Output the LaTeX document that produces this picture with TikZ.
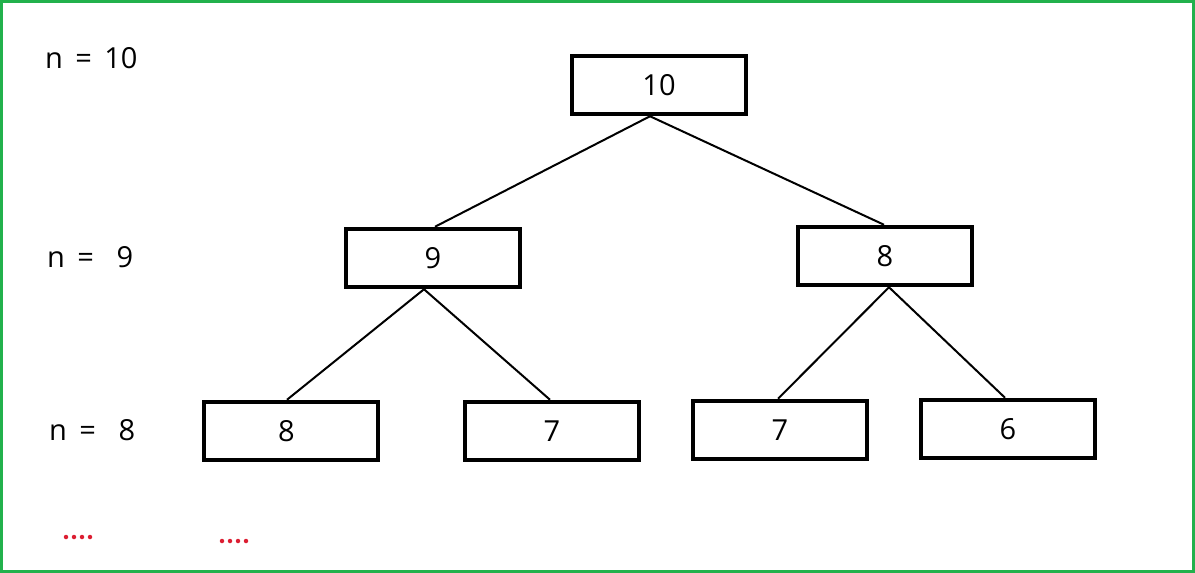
\documentclass[tikz,border=0pt]{standalone}
\usepackage{fontspec}
\setmainfont{Open Sans}
\definecolor{frame}{RGB}{34,177,76}
\definecolor{dotred}{RGB}{220,30,50}
\begin{document}
\begin{tikzpicture}[x=1pt,y=-1pt,
  numbox/.style={draw=black,line width=4.5pt,rectangle,minimum width=174pt,minimum height=58pt,inner sep=0pt,font=\fontsize{29}{33}\selectfont},
  lvl/.style={anchor=west,inner sep=0pt,font=\fontsize{29}{33}\selectfont},
  edge/.style={draw=black,line width=2pt},
  reddot/.style={fill=dotred,draw=none,circle,minimum size=4.5pt,inner sep=0pt}]
\useasboundingbox (0,0) rectangle (1195,573);
\draw[frame,line width=3pt] (1.5,1.5) rectangle (1193.5,571.5);
% level labels
\node[lvl] (l10) at (45,58) {n\,\ =\,\ 10};
\node[lvl] (l9) at (47,257) {n\,\ =\ \ \ 9};
\node[lvl] (l8) at (49,430) {n\,\ =\ \ \ 8};
% boxes
\node[numbox] (root) at (659,85) {\raisebox{-2pt}{10}};
\node[numbox] (n9) at (433,258) {\raisebox{-1pt}{9}};
\node[numbox] (n8) at (885,256) {8};
\node[numbox] (a8) at (291,431) {\raisebox{-2pt}{\hspace*{-9pt}8}};
\node[numbox] (a7) at (552,431) {7};
\node[numbox] (b7) at (780,430) {7};
\node[numbox] (b6) at (1008,429) {\raisebox{-1pt}{6}};
% connectors
\draw[edge] ([xshift=-9pt]root.south) -- ([xshift=2pt]n9.north);
\draw[edge] ([xshift=-9pt]root.south) -- ([xshift=-1pt]n8.north);
\draw[edge] ([xshift=-9pt]n9.south) -- ([xshift=-4pt]a8.north);
\draw[edge] ([xshift=-9pt]n9.south) -- ([xshift=-2pt]a7.north);
\draw[edge] ([xshift=4pt]n8.south) -- ([xshift=-2pt]b7.north);
\draw[edge] ([xshift=4pt]n8.south) -- ([xshift=-3pt]b6.north);
% red dots
\foreach \i in {0,1,2,3} {
  \node[reddot] (da\i) at (66+8*\i,537) {};
  \node[reddot] (db\i) at (222+8*\i,541) {};
}
\end{tikzpicture}
\end{document}
